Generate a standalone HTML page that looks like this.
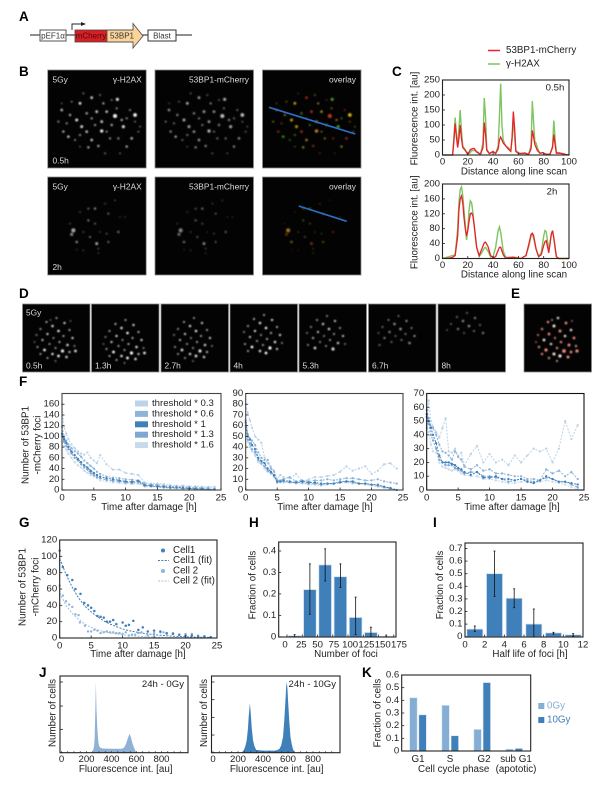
<!DOCTYPE html>
<html lang="en">
<head>
<meta charset="utf-8">
<title>53BP1-mCherry foci figure</title>
<style>
html,body{margin:0;padding:0;background:#fff;width:600px;height:790px;overflow:hidden}
svg{display:block}
text{font-family:"Liberation Sans",Arial,sans-serif;fill:#222}
.letter{font-size:13.5px;font-weight:bold;fill:#000}
.gene{font-size:8px;fill:#333}
</style>
</head>
<body>
<svg id="figure" width="600" height="790" viewBox="0 0 600 790" xmlns="http://www.w3.org/2000/svg">
<defs>
<filter id="soft" x="-10%" y="-10%" width="120%" height="120%"><feGaussianBlur stdDeviation="0.7"/></filter>
</defs>
<rect width="600" height="790" fill="#fff"/>
<text class="letter" x="19" y="21">A</text>
<text class="letter" x="19" y="76">B</text>
<text class="letter" x="392" y="76">C</text>
<text class="letter" x="19" y="298">D</text>
<text class="letter" x="511" y="298">E</text>
<text class="letter" x="19" y="386">F</text>
<text class="letter" x="19" y="527">G</text>
<text class="letter" x="249" y="527">H</text>
<text class="letter" x="433" y="527">I</text>
<text class="letter" x="39" y="677">J</text>
<text class="letter" x="362" y="677">K</text>

<g>
<line x1="30" y1="35" x2="192" y2="35" stroke="#222" stroke-width="1"/>
<rect x="40" y="30" width="26" height="11" fill="#fff" stroke="#555" stroke-width="1"/>
<text class="gene" x="53" y="38.3" text-anchor="middle">pEF1α</text>
<polyline points="72,30 72,24 82,24" fill="none" stroke="#222" stroke-width="0.9"/>
<polygon points="81,22 86,24 81,26" fill="#222"/>
<rect x="75" y="30" width="32" height="12" fill="#d81f26" stroke="#444" stroke-width="0.8"/>
<text class="gene" x="91" y="38.6" text-anchor="middle" style="fill:#4a0a0a">mCherry</text>
<polygon points="107,30 133,30 133,23.5 143,36 133,48 133,42 107,42" fill="#fcd49a" stroke="#555" stroke-width="0.9"/>
<text class="gene" x="122" y="38.6" text-anchor="middle">53BP1</text>
<rect x="148" y="30" width="28" height="11" fill="#fff" stroke="#333" stroke-width="1"/>
<text class="gene" x="162" y="38.3" text-anchor="middle">Blast</text>
</g>
<g id="micro"></g>
<g id="charts"></g>
</svg>
<script>
/* ---------- microscopy foci (positions) ---------- */
const fociEarly = [[345,165,2.1,1],[285,168,2.3,1],[292,118,1.8,.9],[245,213,1.9,.95],[180,130,1.6,.9],[215,113,1.6,.8],[170,180,1.7,.9],[125,150,1.6,.7],[145,230,1.5,.8],[215,240,1.5,.8],[320,260,1.4,.7],[235,258,1.4,.7],[205,262,1.4,.7],[335,235,1.5,.7],[310,200,1.8,.9],[305,180,1.4,.7],[360,200,1,.5],[330,150,1.2,.6],[260,155,1.5,.8],[230,155,1.6,.8],[200,160,1.4,.7],[150,165,1.4,.7],[115,185,1.2,.6],[130,215,1.4,.7],[185,200,1.7,.85],[200,215,1.5,.8],[165,240,1.2,.6],[245,185,1.6,.8],[275,195,1.4,.7],[295,235,1.3,.6],[270,235,1.3,.6],[255,280,1.1,.5],[225,195,1.3,.65],[290,145,1.2,.6],[250,130,1.3,.7],[190,100,1.1,.5],[155,125,1.1,.5],[140,190,1.2,.6],[320,175,1.2,.6],[345,185,1.1,.5],[355,215,1.1,.5],[275,120,1.1,.5],[240,105,1.1,.5],[215,175,1.3,.65],[180,225,1.3,.6],[260,215,1.2,.6],[125,130,1,.4],[300,280,1.1,.4],[180,260,1,.4]];
const fociLate = [[160,510,2.4,.75],[155,522,1.8,.6],[225,445,1.4,.6],[205,445,1.2,.5],[265,460,1.2,.5],[285,420,1,.35],[255,430,1,.35],[180,455,1,.35],[205,480,1.3,.55],[225,490,1.2,.45],[170,545,1.4,.65],[230,550,1.7,.75],[265,545,1.2,.55],[295,515,1.4,.5],[260,520,1,.45],[210,530,1.2,.55],[190,515,1,.4],[300,470,.9,.3],[315,470,.9,.3],[190,570,.9,.35],[235,565,1,.4],[170,568,.8,.3],[240,515,.9,.35],[150,490,1,.35],[235,578,.9,.35]];
const fociTime = [[34,14,1,.7],[24,18,1,.8],[42,19,1.1,.9],[30,22,1.2,.9],[18,25,1,.7],[36,27,1.2,1],[47,26,1,.8],[25,30,1.1,.9],[14,31,.9,.6],[41,32,1,.8],[31,34,.9,.7],[50,34,1.1,.9],[20,36,1.1,.8],[37,38,1,.8],[45,41,1.2,.9],[27,40,1,.7],[15,43,1,.7],[33,44,1,.7],[52,42,.9,.6],[22,46,1.3,1],[40,47,1.5,1],[30,50,1.2,.9],[47,48,1.1,.8],[18,50,1,.7],[36,52,1.3,1],[25,54,1,.7],[44,53,1.2,.9],[33,57,.9,.5],[53,47,1.3,.9],[12,38,.8,.5],[28,16,.8,.5],[48,17,.8,.5]];
const panelDLabels = ["0.5h","1.3h","2.7h","4h","5.3h","6.7h","8h"];
const panelDBrightness = [.95,1,.9,1,.85,.65,.6];
const panelDCounts = [32,30,28,25,21,17,12];
const panelDShiftX = [0,0,-1,0,-6,-4,-5];
const panelDShiftY = [0,2,0,-3,-2,-2,-5];

const NS = "http://www.w3.org/2000/svg";
function mk(tag, attrs, name, parent) {
  const el = document.createElementNS(NS, tag);
  for (const k in attrs) el.setAttribute(k, attrs[k]);
  
  
  parent.appendChild(el);
  return el;
}
function txt(str, x, y, size, anchor, name, parent, extra) {
  const el = mk('text', Object.assign({x:x, y:y, 'font-size':size, 'text-anchor':anchor || 'start', 'dominant-baseline':'central'}, extra || {}), name, parent);
  el.textContent = str;
  return el;
}
function linear(d0, d1, r0, r1) { return v => r0 + (v - d0) * (r1 - r0) / (d1 - d0); }
const micro = document.getElementById('micro');
const charts = document.getElementById('charts');
const TICK = 9.6, TITLE = 9.8;

function image(x, y, w, h, name) {
  mk('rect', {x:x, y:y, width:w, height:h, fill:'#030303', stroke:'#8a8a8a', 'stroke-width':0.8}, name, micro);
  return mk('g', {filter:'url(#soft)'}, name + '-foci', micro);
}
function overlayColor(i) { return ['#f2d21c','#e8412a','#5cc82c','#f0a020','#e8c420','#d83a22'][i % 6]; }
function drawFoci(g, list, ox, oy, dx, dy, scale, mode, gain, count, size) {
  list.slice(0, count || list.length).forEach((s, i) => {
    const col = mode === 'overlay' ? overlayColor(i) : mode === 'red' ? (i % 3 ? '#f08a80' : '#ffe8e0') : '#fff';
    mk('circle', {cx: ox + (s[0] - dx) * scale, cy: oy + (s[1] - dy) * scale, r: s[2] * size, fill: col, opacity: Math.min(1, s[3] * gain)}, 'nuclear-focus', g);
  });
}
const colXs = [47.7, 155, 262.5];
const colModes = ['grey', 'grey', 'overlay'];
const colGains = [.95, .72, .85];
const rowYs = [70, 177];
[fociEarly, fociLate].forEach((list, r) => {
  colXs.forEach((x, c) => {
    const g = image(x, rowYs[r], 98.5, 98, 'micrograph-row' + (r + 1) + '-col' + (c + 1));
    drawFoci(g, list, x, rowYs[r], 83, r ? 350 : 30, 1/3, colModes[c], colGains[c] * (r ? .9 : 1), 0, .88);
  });
});
mk('line', {x1:269, y1:107.3, x2:355.3, y2:134, stroke:'#2c6fc4', 'stroke-width':1.7}, 'line-scan-0.5h', micro);
mk('line', {x1:298.7, y1:206, x2:346.7, y2:221.3, stroke:'#2c6fc4', 'stroke-width':1.7}, 'line-scan-2h', micro);
[0, 1].forEach(r => {
  const y = rowYs[r] + 9.5;
  txt('5Gy', 52.5, y, 8.4, 'start', 'dose-label', micro).style.fill = '#ddd';
  txt('γ-H2AX', 141.7, y, 8.4, 'end', 'h2ax-label', micro).style.fill = '#ddd';
  txt('53BP1-mCherry', 249, y, 8.4, 'end', 'mcherry-image-label', micro).style.fill = '#ddd';
  txt('overlay', 356, y, 8.4, 'end', 'overlay-label', micro).style.fill = '#ddd';
});
txt('0.5h', 52.5, 160.5, 8.4, 'start', 'time-label-0.5h', micro).style.fill = '#ddd';
txt('2h', 52.5, 267, 8.4, 'start', 'time-label-2h', micro).style.fill = '#ddd';
const dXs = [22.5, 91.5, 161, 230, 299, 368.5, 438];
dXs.forEach((x, i) => {
  const g = image(x, 304, 67.5, 68, 'timelapse-' + panelDLabels[i]);
  drawFoci(g, fociTime, x + panelDShiftX[i], 304 + panelDShiftY[i], 0, 0, 1, 'time', panelDBrightness[i], panelDCounts[i], 1.05);
  txt(panelDLabels[i], x + 3.5, 365.5, 8.4, 'start', 'timelapse-time-label', micro).style.fill = '#ddd';
});
txt('5Gy', 26, 312.5, 8.4, 'start', 'timelapse-dose-label', micro).style.fill = '#ddd';
const eg = image(524, 304, 67.5, 68, 'foci-detection-image');
drawFoci(eg, fociTime, 524, 304, 0, 0, 1, 'red', 1.3, 0, 1.25);

/* ---------- panel C data ---------- */
const scanTopX = [0,8,9,10,11,12,13,14,15,16,18,20,22,23,25,27,30,32,33,34,35,37,40,42,44,45,46,47,48,50,52,54,55,56,57,58,60,62,65,68,70,71,72,73,74,75,77,79,82,85,87,88,89,90,92,95,98,100];
const scanTopH2AX = [0,0,60,125,70,30,90,150,80,30,18,3,8,15,15,12,3,40,190,130,20,5,10,5,30,130,238,100,50,30,25,15,50,125,60,15,8,5,5,2,30,180,110,45,40,25,5,8,3,3,30,115,55,8,8,3,1,0];
const scanTopBP1 = [0,0,45,105,60,25,55,100,55,25,15,2,18,20,22,10,2,25,108,70,15,5,12,5,20,50,60,50,40,30,20,12,60,145,90,12,5,5,7,2,20,82,60,35,25,15,6,8,2,2,25,68,35,6,6,5,1,0];
const scanBotX = [0,5,8,10,12,13,14,15,16,17,18,19,20,21,22,23,24,25,27,29,31,33,34,36,38,40,42,44,45,46,48,50,54,56,58,62,66,68,70,71,72,74,76,78,80,81,82,84,85,86,87,88,90,92,100];
const scanBotH2AX = [0,5,8,10,80,150,185,192,170,130,90,50,80,130,155,150,125,90,30,5,15,28,30,20,4,5,30,75,85,70,20,3,3,4,3,0,8,30,60,65,55,25,5,15,60,75,72,25,40,65,75,55,5,0,0];
const scanBotBP1 = [0,1,3,8,60,130,160,168,150,110,80,60,75,100,120,122,115,90,30,8,25,42,44,32,8,2,5,22,30,30,10,1,3,3,2,0,8,35,65,68,62,25,5,10,35,45,48,15,40,65,75,55,5,0,0];
const ticksC = [0,20,40,60,80,100];
const ticksCTopY = [0,50,100,150,200,250];
const ticksCBotY = [0,40,80,120,160,200];

/* ---------- panel F data ---------- */
const timeF = [0,.33,.67,1,1.5,2,2.5,3,3.5,4,4.5,5,5.5,6,7,8,9,10,11,12,13,14,15,16,17,18,19,20,21,22,23,24];
const thresholdNames = ['threshold * 0.3','threshold * 0.6','threshold * 1','threshold * 1.3','threshold * 1.6'];
const f1Thr03 = [160,118,105,95,85,78,72,68,66,70,60,55,50,65,48,38,38,32,30,28,14,12,12,11,9,8,8,7,7,6,6,6];
const f1Thr06 = [118,100,92,85,78,72,68,62,55,50,45,40,34,30,25,23,22,20,19,18,12,10,10,8,7,6,6,5,5,4,4,3];
const f1Thr1 = [105,95,88,80,72,65,58,52,46,42,36,32,28,25,22,20,18,16,15,17,9,8,7,6,5,5,4,3,2,2,1,1];
const f1Thr13 = [100,90,82,76,68,60,55,48,42,38,32,28,24,22,19,17,16,14,13,14,8,7,6,5,4,4,3,3,2,2,1,1];
const f1Thr16 = [90,82,75,68,60,52,46,42,36,32,28,25,22,18,16,14,13,12,11,12,6,6,5,4,3,3,3,2,2,1,1,0];
const f2Thr03 = [80,72,65,58,50,47,44,30,25,22,18,10,14,12,11,15,8,10,12,12,13,14,17,22,18,20,22,15,18,24,25,20];
const f2Thr06 = [65,52,48,46,42,35,30,28,28,20,17,9,9,10,12,8,9,8,9,9,10,9,10,11,11,10,9,9,10,8,7,6];
const f2Thr1 = [63,50,47,42,38,30,27,25,20,17,14,8,8,9,8,7,8,7,7,6,6,6,7,8,8,6,6,5,5,3,2,0];
const f2Thr13 = [60,47,43,38,35,28,25,22,18,16,13,7,8,8,7,7,7,6,6,5,6,6,8,8,7,6,6,5,4,3,1,0];
const f2Thr16 = [58,45,40,36,32,26,24,20,17,15,12,7,7,7,7,6,6,5,5,4,5,6,7,7,6,6,5,4,3,2,1,0];
const f3Thr03 = [45,65,50,46,42,38,45,52,28,27,30,25,27,18,26,32,20,26,20,22,18,25,20,25,30,28,30,20,30,50,37,47];
const f3Thr06 = [58,52,46,45,40,33,28,27,25,22,28,24,22,17,15,18,14,15,12,12,11,10,10,8,8,7,15,12,14,10,13,8];
const f3Thr1 = [55,50,45,40,34,25,20,20,20,19,18,16,15,13,11,13,9,9,10,8,8,7,8,6,5,7,10,8,6,6,5,4];
const f3Thr13 = [53,48,40,36,30,22,20,18,18,18,16,15,14,12,13,13,10,10,9,8,6,7,8,7,6,7,9,8,6,6,4,2];
const f3Thr16 = [50,42,33,28,27,20,17,16,15,14,15,14,12,11,10,10,8,8,7,6,5,5,6,6,5,6,7,6,5,4,2,1];
const ticksTime = [0,5,10,15,20,25];
const ticksF1Y = [0,20,40,60,80,100,120,140,160];
const ticksF2Y = [0,10,20,30,40,50,60,70,80,90];
const ticksF3Y = [0,10,20,30,40,50,60,70];

/* ---------- panel G data ---------- */
const gCell1T = [0,.5,1.2,2,2.5,3.3,3.9,4.5,5,5.5,6,6.5,7,7.5,8,8.5,9,10,10.5,11,11.7,12.5,13.2,14,15,16,17,18,19,20,21,22,23,24];
const gCell1N = [107,87,77,71,60,54,43,40,37,33,27,26,25,20,20,22,17,19,15,16,21,10,13,8,9,8,6,5,4,3,3,2,2,1];
const gCell2T = [0,.5,1,1.5,2,2.5,3,3.2,4,4.5,5,5.5,6,6.5,7,7.5,8,8.5,9,9.5,10,10.5,11,11.5,12,12.5,13,14,15,16,16.5,17,18,19,20,21,22,23,24];
const gCell2N = [64,52,45,41,38,29,28,19,15,8,8,10,9,6,7,8,7,7,6,6,5,7,3,4,4,6,7,3,6,7,7,5,6,4,5,5,3,2,1];
const gFitT = [0,1,2,3,4,5,6,7,8,9,10,11,12,13,14,15,16,17,18,19,20,21,22,23,24];
const gFit1 = [97,78,62,49,39,32,26,21,17,14,11,9,7.5,6,5,4,3.3,2.7,2.2,1.8,1.5,1.2,1,.8,.7];
const gFit2 = [55,40,30,23,17,13,10,8,6,5,4,3,2.3,1.8,1.4,1,.8,.6,.5,.4,.3,.2,.2,.1,.1];
const ticksGY = [0,20,40,60,80,100,120];

/* ---------- panel H data ---------- */
const hBins = [12.5,37.5,62.5,87.5,112.5,137.5,162.5];
const hFractions = [.005,.22,.335,.28,.09,.02,.002];
const hErrLow = [0,.105,.26,.23,.01,0,0];
const hErrHigh = [.01,.34,.41,.34,.185,.045,.008];
const ticksHX = [0,25,50,75,100,125,150,175];
const ticksHY = [0,.1,.2,.3,.4];

/* ---------- panel I data ---------- */
const iBins = [1,3,5,7,9,11];
const iFractions = [.06,.5,.305,.1,.03,.015];
const iErrLow = [.04,.32,.23,0,.02,.005];
const iErrHigh = [.085,.68,.38,.22,.035,.025];
const ticksIX = [0,2,4,6,8,10,12];
const ticksIY = [0,.1,.2,.3,.4,.5,.6,.7];

/* ---------- panel J data ---------- */
const j0X = [240,250,260,265,270,275,280,285,290,295,300,310,330,400,480,500,515,530,545,555,570,585,600];
const j0Count = [0,2,8,20,55,100,60,40,25,15,10,7,6,5.5,5.5,7,12,20,27,22,12,5,0];
const j10X = [225,240,250,260,270,280,285,290,295,300,305,310,320,330,345,400,500,530,545,560,570,580,585,590,595,600,610,620,630,640,655];
const j10Count = [0,2,5,10,18,35,50,60,70,60,48,35,18,10,4,3,3,5,10,22,45,75,92,100,92,75,45,22,12,5,0];
const ticksJX = [0,200,400,600,800];
const ticksJMinor = [0,50,100,150,200,250,300,350,400,450,500,550,600,650,700,750,800,850,900,950];

/* ---------- panel K data ---------- */
const kPhases = ['G1','S','G2','sub G1'];
const k0Gy = [.42,.36,.17,.015];
const k10Gy = [.285,.12,.54,.02];
const ticksKY = [0,.1,.2,.3,.4,.5,.6];

/* ---------- shared axis drawing ---------- */
function frame(x0, y0, x1, y1, name, col) {
  mk('rect', {x:x0, y:y0, width:x1 - x0, height:y1 - y0, fill:'none', stroke:col || '#222', 'stroke-width':1.1}, name + '-frame', charts);
}
function yTicks(vals, sy, x0, name, fmt, len) {
  vals.forEach(v => {
    mk('line', {x1:x0, x2:x0 + (len || 2.5), y1:sy(v), y2:sy(v), stroke:'#222', 'stroke-width':.8}, name + '-y-tick', charts);
    txt(fmt ? fmt(v) : String(v), x0 - 2.5, sy(v), TICK, 'end', name + '-y-tick-label', charts);
  });
}
function xTicks(vals, sx, y0, name, labelY, labelX) {
  vals.forEach(v => {
    mk('line', {x1:sx(v), x2:sx(v), y1:y0, y2:y0 - 2.5, stroke:'#222', 'stroke-width':.8}, name + '-x-tick', charts);
    txt(String(v), (labelX || sx)(v), labelY, TICK, 'middle', name + '-x-tick-label', charts);
  });
}
function yTitle(str, x, y, name) {
  txt(str, x, y, TITLE, 'middle', name, charts, {transform:'rotate(-90 ' + x + ' ' + y + ')'});
}
function pathOf(xs, ys, sx, sy) {
  return xs.map((x, i) => (i ? 'L' : 'M') + sx(x).toFixed(2) + ' ' + sy(ys[i]).toFixed(2)).join(' ');
}
const dec = v => v === 0 ? '0' : String(v);

/* panel C */
function scanChart(name, top, bot, xs, g, r, yt, ymax, label, labelX, labelY, tickY, titleY) {
  const sx = linear(0, 100, 442.5, 569), sy = linear(0, ymax, bot, top);
  mk('path', {d:pathOf(xs, g, sx, sy), fill:'none', stroke:'#7cc561', 'stroke-width':1.4}, name + '-h2ax-line', charts);
  mk('path', {d:pathOf(xs, r, sx, sy), fill:'none', stroke:'#ea2128', 'stroke-width':1.3}, name + '-53bp1-line', charts);
  frame(442.5, top, 569, bot, name);
  yTicks(yt, sy, 442.5, name);
  xTicks(ticksC, sx, bot, name, tickY);
  txt('Distance along line scan', 514, titleY, TITLE, 'middle', name + '-x-title', charts);
  yTitle('Fluorescence int. [au]', 415, (top + bot) / 2 + 1, name + '-y-title');
  txt(label, labelX, labelY, TICK, 'middle', name + '-time-label', charts);
}
scanChart('scan-0.5h', 80, 155, scanTopX, scanTopH2AX, scanTopBP1, ticksCTopY, 250, '0.5h', 555, 88, 162, 172);
scanChart('scan-2h', 184, 258.5, scanBotX, scanBotH2AX, scanBotBP1, ticksCBotY, 200, '2h', 552, 192, 265.5, 275);
mk('line', {x1:488, x2:500, y1:50.5, y2:50.5, stroke:'#ea2128', 'stroke-width':1.5}, 'legend-53bp1-swatch', charts);
txt('53BP1-mCherry', 506, 50.5, TITLE, 'start', 'legend-53bp1-label', charts);
mk('line', {x1:488, x2:500, y1:64, y2:64, stroke:'#7cc561', 'stroke-width':1.5}, 'legend-h2ax-swatch', charts);
txt('γ-H2AX', 506, 64, TITLE, 'start', 'legend-h2ax-label', charts);

/* panel F */
const thrColors = ['#bcd3e9','#8fb4d9','#3f7fba','#7ea8d2','#c6daec'];
const thrDrawOrder = [0,4,1,3,2];
function decayChart(name, x0, x1, ymax, yt, series, titleX, frameCol) {
  const top = 393.5, bot = 490;
  const sx = linear(0, 25, x0, x1), sy = linear(0, ymax, bot, top);
  thrDrawOrder.forEach(i => {
    mk('path', {d:pathOf(timeF, series[i], sx, sy), fill:'none', stroke:thrColors[i], 'stroke-width':1, 'stroke-dasharray':'2 1.4'}, name + '-series-' + i, charts);
    series[i].forEach((v, k) => {
      mk('circle', {cx:sx(timeF[k]), cy:sy(v), r:1.15, fill:thrColors[i]}, name + '-point', charts);
    });
  });
  frame(x0, top, x1, bot, name, frameCol);
  yTicks(yt, sy, x0, name);
  xTicks(ticksTime, sx, bot, name, 498);
  txt('Time after damage [h]', titleX, 507.5, TITLE, 'middle', name + '-x-title', charts);
}
decayChart('foci-cell-a', 62, 221, 180, ticksF1Y, [f1Thr03,f1Thr06,f1Thr1,f1Thr13,f1Thr16], 149, '#444');
decayChart('foci-cell-b', 245.7, 403, 90, ticksF2Y, [f2Thr03,f2Thr06,f2Thr1,f2Thr13,f2Thr16], 325, '#444');
decayChart('foci-cell-c', 426.7, 584, 70, ticksF3Y, [f3Thr03,f3Thr06,f3Thr1,f3Thr13,f3Thr16], 512, '#111');
yTitle('Number of 53BP1', 26, 445, 'foci-y-title-line1');
yTitle('-mCherry foci', 38, 445, 'foci-y-title-line2');
thresholdNames.forEach((n, i) => {
  const y = 403.5 + i * 10.4;
  mk('rect', {x:135, y:y - 3, width:13, height:6, fill:thrColors[i]}, 'legend-threshold-swatch', charts);
  txt(n, 152, y, 9.6, 'start', 'legend-threshold-label', charts);
});

/* panel G */
{
  const sx = linear(0, 25, 59.7, 217), sy = linear(0, 120, 638, 540);
  mk('path', {d:pathOf(gFitT, gFit1, sx, sy), fill:'none', stroke:'#3f7fba', 'stroke-width':1, 'stroke-dasharray':'2 1.4'}, 'cell1-fit-line', charts);
  mk('path', {d:pathOf(gFitT, gFit2, sx, sy), fill:'none', stroke:'#9fc0e0', 'stroke-width':1, 'stroke-dasharray':'2 1.4'}, 'cell2-fit-line', charts);
  gCell2T.forEach((t, i) => {
    mk('circle', {cx:sx(t), cy:sy(gCell2N[i]), r:1.2, fill:'#8fb4d9'}, 'cell2-point', charts);
  });
  gCell1T.forEach((t, i) => {
    mk('circle', {cx:sx(t), cy:sy(gCell1N[i]), r:1.25, fill:'#3f7fba'}, 'cell1-point', charts);
  });
  frame(59.7, 540, 217, 638, 'foci-fit');
  yTicks(ticksGY, sy, 59.7, 'foci-fit');
  xTicks(ticksTime, sx, 638, 'foci-fit', 646);
  txt('Time after damage [h]', 138, 654.5, TITLE, 'middle', 'foci-fit-x-title', charts);
  yTitle('Number of 53BP1', 23, 587, 'foci-fit-y-title-line1');
  yTitle('-mCherry foci', 36, 587, 'foci-fit-y-title-line2');
  mk('circle', {cx:163, cy:550.5, r:2, fill:'#3f7fba'}, 'legend-cell1-marker', charts);
  txt('Cell1', 173, 550.5, TITLE, 'start', 'legend-cell1-label', charts);
  mk('line', {x1:158, x2:169, y1:560.5, y2:560.5, stroke:'#3f7fba', 'stroke-width':1.1, 'stroke-dasharray':'2 1.4'}, 'legend-cell1-fit-swatch', charts);
  txt('Cell1 (fit)', 173, 560.5, TITLE, 'start', 'legend-cell1-fit-label', charts);
  mk('circle', {cx:163, cy:571, r:2, fill:'#8fb4d9'}, 'legend-cell2-marker', charts);
  txt('Cell 2', 173, 571, TITLE, 'start', 'legend-cell2-label', charts);
  mk('line', {x1:158, x2:169, y1:581, y2:581, stroke:'#9fc0e0', 'stroke-width':1.1, 'stroke-dasharray':'2 1.4'}, 'legend-cell2-fit-swatch', charts);
  txt('Cell 2 (fit)', 173, 581, TITLE, 'start', 'legend-cell2-fit-label', charts);
}

/* bars with error whiskers */
function histogram(name, x0, x1, y0, y1, sx, sy, bins, vals, lo, hi, w) {
  bins.forEach((b, i) => {
    mk('rect', {x:sx(b) - w / 2, y:sy(vals[i]), width:w, height:sy(0) - sy(vals[i]), fill:'#3f7fba', stroke:'#cfe0ef', 'stroke-width':.7}, name + '-bar', charts);
  });
  bins.forEach((b, i) => {
    mk('line', {x1:sx(b), x2:sx(b), y1:sy(lo[i]), y2:sy(hi[i]), stroke:'#111', 'stroke-width':.8}, name + '-error-bar', charts);
    mk('line', {x1:sx(b) - 1, x2:sx(b) + 1, y1:sy(hi[i]), y2:sy(hi[i]), stroke:'#111', 'stroke-width':.8}, name + '-error-cap', charts);
    mk('line', {x1:sx(b) - 1, x2:sx(b) + 1, y1:sy(lo[i]), y2:sy(lo[i]), stroke:'#111', 'stroke-width':.8}, name + '-error-cap', charts);
  });
  frame(x0, y0, x1, y1, name);
}
{ /* panel H */
  const sx = linear(0, 175, 287, 393.8), sy = linear(0, .4, 636.8, 551);
  const labelX = linear(0, 175, 285, 399);
  histogram('foci-histogram', 278.7, 396, 542, 637, sx, sy, hBins, hFractions, hErrLow, hErrHigh, 12.6);
  yTicks(ticksHY, sy, 278.7, 'foci-histogram', dec);
  xTicks(ticksHX, sx, 637, 'foci-histogram', 645, labelX);
  txt('Number of foci', 346, 654.5, TITLE, 'middle', 'foci-histogram-x-title', charts);
  yTitle('Fraction of cells', 253, 585, 'foci-histogram-y-title');
}
{ /* panel I */
  const sx = linear(0, 12, 465, 583), sy = linear(0, .7, 636.7, 548.5);
  histogram('half-life-histogram', 465, 583, 543, 637, sx, sy, iBins, iFractions, iErrLow, iErrHigh, 16);
  yTicks(ticksIY, sy, 465, 'half-life-histogram', dec);
  xTicks(ticksIX, sx, 637, 'half-life-histogram', 645);
  txt('Half life of foci [h]', 530, 654.5, TITLE, 'middle', 'half-life-histogram-x-title', charts);
  yTitle('Fraction of cells', 440.7, 585, 'half-life-histogram-y-title');
}
/* panel J */
function flow(name, x0, x1, xs, counts, col, yTickVals, label, labelX, titleX) {
  const top = 676, bot = 752.7;
  const sx = linear(0, 1000, x0 + 1.5, x0 + 126.5), sy = linear(0, 100, bot, 682);
  mk('path', {d:pathOf(xs, counts, sx, sy) + ' Z', fill:col, stroke:'none'}, name + '-histogram', charts);
  frame(x0, top, x1, bot, name);
  ticksJMinor.forEach(v => {
    mk('line', {x1:sx(v), x2:sx(v), y1:bot, y2:bot - 1.5, stroke:'#222', 'stroke-width':.7}, name + '-x-minor-tick', charts);
  });
  yTickVals.forEach(v => {
    mk('line', {x1:x0, x2:x0 + 3, y1:sy(v), y2:sy(v), stroke:'#222', 'stroke-width':.8}, name + '-y-tick', charts);
  });
  ticksJX.forEach(v => {
    txt(String(v), sx(v), 759.5, TICK, 'middle', name + '-x-tick-label', charts);
  });
  txt('Fluorescence int. [au]', titleX, 769.5, TITLE, 'middle', name + '-x-title', charts);
  yTitle('Number of cells', x0 - 7, 713, name + '-y-title');
  txt(label, labelX, 684.5, TICK, 'end', name + '-condition-label', charts);
}
const j0YTicks = [0,33,66,100];
const j10YTicks = [0,25,50,75,100];
flow('dna-content-0gy', 60, 188, j0X, j0Count, '#8db2d6', j0YTicks, '24h - 0Gy', 184, 125.7);
flow('dna-content-10gy', 211.5, 340, j10X, j10Count, '#3f7fba', j10YTicks, '24h - 10Gy', 336, 276.7);

{ /* panel K */
  const groupX = [418, 450.2, 482.2, 514.2];
  const sy = linear(0, .6, 751, 675);
  kPhases.forEach((p, i) => {
    mk('rect', {x:groupX[i] - 8.3, y:sy(k0Gy[i]), width:7.4, height:sy(0) - sy(k0Gy[i]), fill:'#86aed4', stroke:'#d4e2f0', 'stroke-width':.5}, 'cycle-bar-0gy-' + p, charts);
    mk('rect', {x:groupX[i] + .9, y:sy(k10Gy[i]), width:7.4, height:sy(0) - sy(k10Gy[i]), fill:'#3f7fba', stroke:'#d4e2f0', 'stroke-width':.5}, 'cycle-bar-10gy-' + p, charts);
  });
  frame(401.7, 675, 530.7, 751, 'cell-cycle');
  yTicks(ticksKY, sy, 401.7, 'cell-cycle', dec);
  const kLabelX = [418, 450, 484, 516];
  kPhases.forEach((p, i) => {
    txt(p, kLabelX[i], 759.5, TITLE, 'middle', 'cell-cycle-x-tick-label', charts);
  });
  txt('Cell cycle phase', 453.7, 769.5, TITLE, 'middle', 'cell-cycle-x-title', charts);
  txt('(apototic)', 516, 769.5, TITLE, 'middle', 'cell-cycle-apoptotic-note', charts);
  yTitle('Fraction of cells', 378, 713, 'cell-cycle-y-title');
  mk('rect', {x:538.3, y:703, width:6, height:6, fill:'#86aed4'}, 'legend-0gy-swatch', charts);
  txt('0Gy', 547, 706, TITLE, 'start', 'legend-0gy-label', charts).style.fill = '#86aed4';
  mk('rect', {x:538.3, y:717, width:6, height:6, fill:'#3f7fba'}, 'legend-10gy-swatch', charts);
  txt('10Gy', 547, 720, TITLE, 'start', 'legend-10gy-label', charts).style.fill = '#3f7fba';
}
</script>
</body>
</html>
